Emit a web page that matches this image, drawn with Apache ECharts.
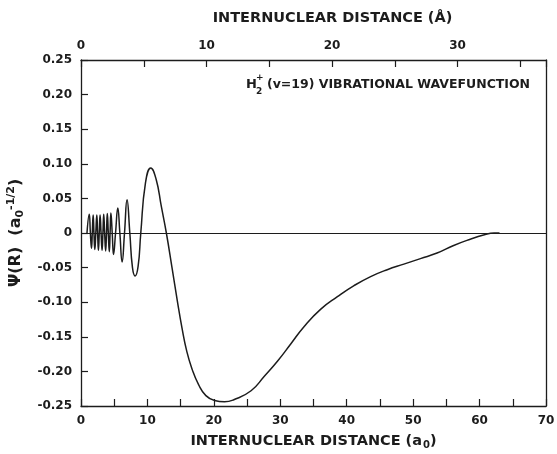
<!DOCTYPE html>
<html><head><meta charset="utf-8">
<script src="https://cdn.jsdelivr.net/npm/echarts@6/dist/echarts.min.js"></script>
<style>html,body{margin:0;padding:0;background:#fff}#c{width:557px;height:454px}</style>
</head><body><div id="c"></div>
<script>
// Internuclear distance in bohr (a0) and wavefunction values
const distanceA0 = [
  0.9, 1.24, 1.41, 1.58, 1.70, 1.83, 1.95, 2.08, 2.23, 2.38, 2.50, 2.62, 2.75, 2.87,
  3.02, 3.17, 3.30, 3.42, 3.56, 3.71, 3.84, 3.96, 4.11, 4.26, 4.38, 4.50, 4.70, 4.90,
  5.20, 5.54, 5.85, 6.19, 6.55, 6.93, 7.35, 7.75, 8.15, 8.60, 9.0, 9.7, 10.5, 11.3,
  12.1, 12.85, 13.7, 14.5, 15.2, 15.9, 16.7, 17.7, 18.8, 20.1, 21.6, 23.0, 25.6,
  27.6, 29.6, 31.6, 33.6, 36.1, 38.6, 41.1, 43.6, 46.1, 48.6, 51.1, 53.6, 56.1, 58.6,
  60.6, 62.2, 63.0
];
const psi = [
  0.000, 0.027, 0.000, -0.022, 0.000, 0.026, 0.000, -0.024, 0.000, 0.026, 0.000, -0.025, 0.000, 0.026,
  0.000, -0.025, 0.000, 0.027, 0.000, -0.026, 0.000, 0.028, 0.000, -0.027, 0.000, 0.029, 0.000, -0.031,
  0.000, 0.036, 0.000, -0.042, 0.000, 0.048, 0.000, -0.050, -0.062, -0.048, 0.000, 0.072, 0.094, 0.078,
  0.038, 0.000, -0.050, -0.098, -0.137, -0.170, -0.196, -0.219, -0.235, -0.242, -0.244, -0.241, -0.228,
  -0.207, -0.185, -0.160, -0.135, -0.110, -0.092, -0.076, -0.063, -0.053, -0.045, -0.037, -0.029, -0.018, -0.009,
  -0.003, 0.000, 0.000
];
const xRangeA0 = [0, 70];
const yRange = [-0.25, 0.25];
const A0_PER_ANGSTROM = 1.8897;

const ink = '#1c1c1c';
const font = 'DejaVu Sans';

const chart = echarts.init(document.getElementById('c'), null, {renderer: 'canvas'});
const lineData = distanceA0.map((x, i) => [x, psi[i]]);

function tick() { return {show: true, inside: true, length: 7, lineStyle: {color: ink, width: 1.2}}; }
function axLine() { return {show: true, onZero: false, lineStyle: {color: ink, width: 1.3}}; }

chart.setOption({
  animation: false,
  backgroundColor: '#fff',
  grid: {left: 81, right: 11, top: 60, bottom: 48, containLabel: false, outerBoundsMode: 'none'},
  xAxis: [{
    type: 'value', min: xRangeA0[0], max: xRangeA0[1], interval: 5, position: 'bottom',
    axisLine: axLine(), axisTick: tick(),
    axisLabel: {margin: 9, color: ink, fontFamily: font, fontWeight: 'bold', fontSize: 12, formatter: v => (v % 10 === 0 ? String(v) : '')},
    splitLine: {show: false},
    name: '{t|INTERNUCLEAR DISTANCE (a}{s|0}{t|)}', nameLocation: 'middle', nameGap: 26,
    nameTextStyle: {rich: {
      t: {fontFamily: font, fontWeight: 'bold', fontSize: 14.5, color: ink, lineHeight: 18},
      s: {fontFamily: font, fontWeight: 'bold', fontSize: 10, color: ink, lineHeight: 18, padding: [8, 0, 0, 1]}
    }}
  }, {
    type: 'value', min: 0, max: xRangeA0[1] / A0_PER_ANGSTROM, interval: 5, position: 'top',
    axisLine: axLine(), axisTick: tick(),
    axisLabel: {margin: 8, color: ink, fontFamily: font, fontWeight: 'bold', fontSize: 12, formatter: v => (Math.abs(v % 10) < 1e-9 ? String(Math.round(v)) : '')},
    splitLine: {show: false},
    name: 'INTERNUCLEAR DISTANCE (Å)', nameLocation: 'middle', nameGap: 34,
    nameTextStyle: {fontFamily: font, fontWeight: 'bold', fontSize: 14.5, color: ink, padding: [0, 0, 0, 38]}
  }],
  yAxis: [{
    type: 'value', min: yRange[0], max: yRange[1], interval: 0.05, position: 'left',
    axisLine: axLine(), axisTick: tick(),
    axisLabel: {margin: 9, color: ink, fontFamily: font, fontWeight: 'bold', fontSize: 12,
      formatter: v => (Math.abs(v) < 1e-9 ? '0' : v.toFixed(2))},
    splitLine: {show: false},
    name: '{t|Ψ(R)  (a}{s|0}{p|-1/2}{t|)}', nameLocation: 'middle', nameGap: 44, nameRotate: 90,
    nameTextStyle: {rich: {
      t: {fontFamily: font, fontWeight: 'bold', fontSize: 16, color: ink, lineHeight: 24},
      s: {fontFamily: font, fontWeight: 'bold', fontSize: 11, color: ink, lineHeight: 24, padding: [8, 0, 0, 0]},
      p: {fontFamily: font, fontWeight: 'bold', fontSize: 11, color: ink, lineHeight: 24, padding: [0, 0, 10, 0]}
    }}
  }, {
    type: 'value', min: yRange[0], max: yRange[1], position: 'right',
    axisLine: axLine(),
    axisTick: {show: false}, axisLabel: {show: false}, splitLine: {show: false}
  }],
  graphic: [
    {type: 'text', left: 246, top: 78, style: {text: 'H', font: 'bold 13px "DejaVu Sans"', fill: ink}},
    {type: 'text', left: 256, top: 73, style: {text: '+', font: 'bold 9px "DejaVu Sans"', fill: ink}},
    {type: 'text', left: 256, top: 87, style: {text: '2', font: 'bold 9px "DejaVu Sans"', fill: ink}},
    {type: 'text', left: 267, top: 78, style: {text: '(v=19) VIBRATIONAL WAVEFUNCTION', font: 'bold 12.5px "DejaVu Sans"', fill: ink}}
  ],
  series: [{
    type: 'line', xAxisIndex: 0, yAxisIndex: 0, data: lineData,
    showSymbol: false, smooth: 0.5,
    lineStyle: {color: ink, width: 1.5},
    markLine: {
      silent: true, symbol: 'none', label: {show: false},
      lineStyle: {color: ink, width: 1, type: 'solid'},
      data: [[{coord: [xRangeA0[0], 0]}, {coord: [xRangeA0[1], 0]}]]
    }
  }]
});
</script></body></html>
